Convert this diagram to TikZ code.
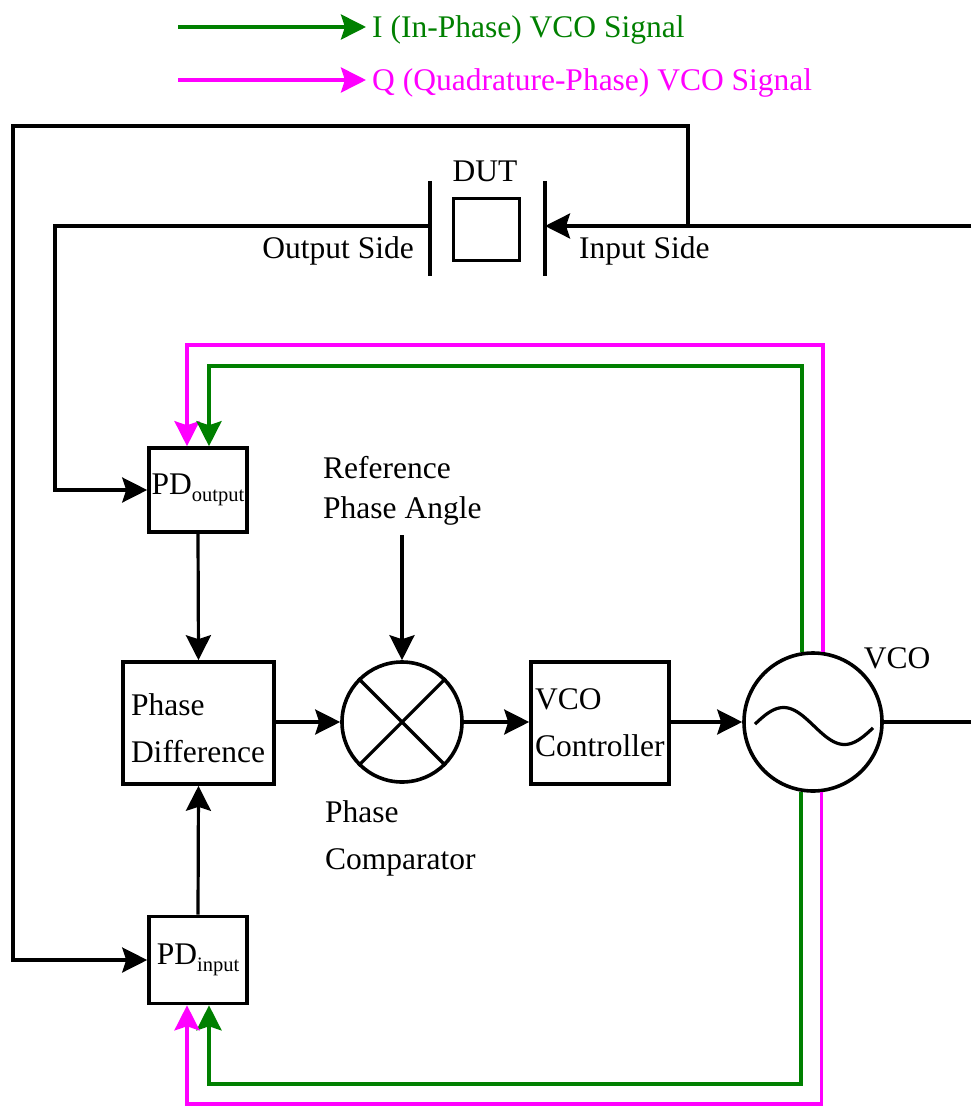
\documentclass[tikz,border=0pt]{standalone}
\usepackage{fontspec}
\setmainfont{Liberation Serif}
\newfontfamily\tnr{Liberation Serif}
\usetikzlibrary{arrows.meta,calc}
\definecolor{igreen}{RGB}{0,128,0}
\definecolor{qmag}{RGB}{255,0,255}
\begin{document}
\begin{tikzpicture}[x=1pt,y=-1pt,
  font=\tnr\fontsize{31.5}{40}\selectfont,
  wire/.style={line width=3.2pt},
  cwire/.style={line width=3.6pt},
  arr/.style={-{Stealth[length=25pt,width=25pt,inset=4pt]}},
  blk/.style={draw,line width=3.6pt,inner sep=0pt},
  twoline/.style={align=left,font=\tnr\fontsize{31.5}{47}\selectfont},
  ]
\useasboundingbox (0,0) rectangle (971,1107);

% legend
\coordinate (lg1) at (178,27);
\coordinate (lg2) at (178,80);
\node[anchor=west,text=igreen,inner sep=0pt] (lgI) at (372,30) {I (In-Phase) VCO Signal};
\node[anchor=west,text=qmag,inner sep=0pt] (lgQ) at (372,83) {Q (Quadrature-Phase) VCO Signal};
\draw[cwire,igreen,arr] (lg1) -- ([xshift=-6pt]lgI.west |- lg1);
\draw[cwire,qmag,arr] (lg2) -- ([xshift=-6pt]lgQ.west |- lg2);

% DUT
\node[blk,minimum width=66,minimum height=62] (dut) at (486.5,229.5) {};
\node (dutlbl) at (485,171) {DUT};
\coordinate (plLt) at (430,181);
\coordinate (plLb) at (430,276);
\coordinate (plRt) at (545,181);
\coordinate (plRb) at (545,276);
\draw[wire] (plLt) -- (plLb);
\draw[wire] (plRt) -- (plRb);
\node[anchor=east,inner sep=0pt] (outside) at (414,251) {Output Side};
\node[anchor=west,inner sep=0pt] (inside) at (579,251) {Input Side};

% blocks
\node[blk,minimum width=98,minimum height=84,font=\tnr\fontsize{31.5}{31}\selectfont] (pdout) at (198,490)
  {PD\raisebox{-7pt}{\fontsize{20.5}{20}\selectfont output}};
\node[blk,minimum width=98,minimum height=87,font=\tnr\fontsize{31.5}{31}\selectfont] (pdin) at (198,960)
  {PD\raisebox{-7pt}{\fontsize{20.5}{20}\selectfont input}};
\node[blk,twoline,text width=135pt,inner xsep=8pt,minimum height=122] (pd) at (198.5,723) {\strut Phase\\Difference};
\node[draw,circle,line width=3.6pt,minimum size=120] (cmp) at (402,722) {};
\node[blk,twoline,text width=130pt,inner xsep=4pt,minimum height=122] (ctl) at (600,723) {VCO\\Controller};
\node[draw,circle,line width=3.6pt,minimum size=138] (vco) at (813,722) {};
\node (vcolbl) at (897,658) {VCO};

\draw[wire] (cmp.45) -- (cmp.225);
\draw[wire] (cmp.135) -- (cmp.315);
\draw[wire] plot[domain=755:873,samples=60,smooth] (\x,{726-18.5*sin(2.95082*(\x-753))});

\node[twoline,anchor=west,inner sep=0pt,font=\tnr\fontsize{31.5}{40}\selectfont] (reflbl) at (323,491) {Reference\\Phase Angle};
\coordinate (refarr) at (402,535);
\node[twoline,anchor=west,inner sep=0pt] (cmplbl) at (325,838) {Phase\\Comparator};

% signal path
\draw[wire,arr] (pdout.south) -- (pd.north);
\draw[wire,arr] (pdin.north) -- (pd.south);
\draw[wire,arr] (pd.east |- cmp.west) -- (cmp.west);
\draw[wire,arr] (refarr) -- (cmp.north);
\draw[wire,arr] (cmp.east) -- (ctl.west |- cmp.east);
\draw[wire,arr] (ctl.east |- vco.west) -- (vco.west);
\coordinate (vout) at (971,722);
\draw[wire] (vco.east) -- (vout);

% DUT loops
\coordinate (inR) at (971,226);
\coordinate (jn) at (688,226);
\coordinate (topR) at (688,126);
\coordinate (topL) at (13,126);
\coordinate (outL) at (55,226);
\draw[wire,arr] (inR) -- (plRt |- inR);
\draw[wire,arr] (jn) -- (topR) -- (topL) |- (pdin.west);
\draw[wire,arr] (plLt |- outL) -- (outL) |- (pdout.west);

% I/Q loops
\coordinate (mT) at (187,345);
\coordinate (gT) at (209,366);
\coordinate (gB) at (209,1084);
\coordinate (mB) at (187,1104);
\draw[cwire,qmag,arr] (vco.82.67) |- (mT) -- (mT |- pdout.north);
\draw[cwire,igreen,arr] (vco.99.8) |- (gT) -- (gT |- pdout.north);
\draw[cwire,igreen,arr] (vco.260.2) |- (gB) -- (gB |- pdin.south);
\draw[cwire,qmag,arr] (vco.277.33) |- (mB) -- (mB |- pdin.south);
\end{tikzpicture}
\end{document}
